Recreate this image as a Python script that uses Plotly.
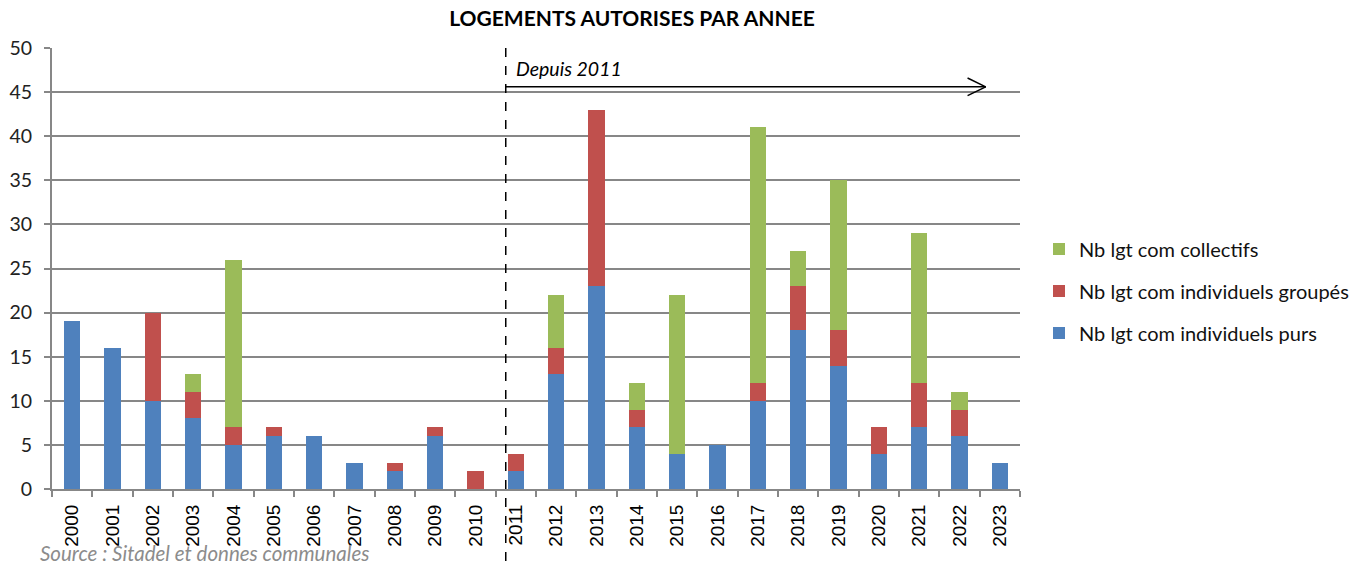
import plotly.graph_objects as go

years = [str(y) for y in range(2000, 2024)]
purs = [19, 16, 10, 8, 5, 6, 6, 3, 2, 6, 0, 2, 13, 23, 7, 4, 5, 10, 18, 14, 4, 7, 6, 3]
groupes = [0, 0, 10, 3, 2, 1, 0, 0, 1, 1, 2, 2, 3, 20, 2, 0, 0, 2, 5, 4, 3, 5, 3, 0]
collectifs = [0, 0, 0, 2, 19, 0, 0, 0, 0, 0, 0, 0, 6, 0, 3, 18, 0, 29, 4, 17, 0, 17, 2, 0]

FONT = "Lato"
TICKFONT = "Liberation Sans"
GRID = "#878787"

fig = go.Figure()
series = [
    ("Nb lgt com individuels purs", purs, "#4F81BD", 3),
    ("Nb lgt com individuels groupés", groupes, "#C0504D", 2),
    ("Nb lgt com collectifs", collectifs, "#9BBB59", 1),
]
for name, vals, col, rank in series:
    fig.add_trace(go.Bar(
        x=years, y=vals, name=name, legendgroup=name, legendrank=rank,
        marker=dict(color=col, line=dict(width=0)),
    ))

# index positions on the category axis
i2011 = years.index("2011")
x_split = i2011 - 0.25
x_arrow_end = years.index("2022") + 0.65
y_arrow = 45.6

shapes = [
    dict(type="line", xref="x", yref="paper", x0=x_split, x1=x_split, y0=1.0, y1=-0.18,
         line=dict(color="black", width=1.5, dash="dash")),
    dict(type="line", xref="x", yref="y", x0=x_split, x1=x_arrow_end, y0=y_arrow, y1=y_arrow,
         line=dict(color="black", width=1.5)),
    dict(type="line", xref="x", yref="y", x0=x_arrow_end - 0.45, x1=x_arrow_end, y0=y_arrow + 1.0, y1=y_arrow,
         line=dict(color="black", width=1.5)),
    dict(type="line", xref="x", yref="y", x0=x_arrow_end - 0.45, x1=x_arrow_end, y0=y_arrow - 1.0, y1=y_arrow,
         line=dict(color="black", width=1.5)),
]

annotations = [
    dict(text="<i>Depuis 2011</i>", xref="x", yref="y", x=x_split + 0.2, y=y_arrow + 0.5,
         xanchor="left", yanchor="bottom", showarrow=False,
         font=dict(family=FONT, size=19.5, color="black")),
    dict(text="<i>Source : Sitadel et donnes communales</i>", xref="paper", yref="paper",
         x=-0.014, y=-0.145, xanchor="left", yanchor="middle", showarrow=False,
         font=dict(family=FONT, size=20.5, color="#8C8C8C")),
]

fig.update_layout(
    width=1363, height=569,
    barmode="stack", bargap=0.6,
    paper_bgcolor="white", plot_bgcolor="white",
    margin=dict(l=52, r=343, t=48, b=80, autoexpand=False),
    title=dict(text="<b>LOGEMENTS AUTORISES PAR ANNEE</b>", x=632 / 1363, xanchor="center",
               y=1 - 19 / 569, yanchor="middle",
               font=dict(family=FONT, size=21, color="black")),
    font=dict(family=FONT, color="black"),
    legend=dict(xref="container", yref="container", x=1039 / 1363, y=1 - 291 / 569,
                xanchor="left", yanchor="middle", traceorder="grouped",
                tracegroupgap=13, font=dict(family=FONT, size=20, color="#111")),
    shapes=shapes,
    annotations=annotations,
)
fig.update_xaxes(
    type="category", tickangle=-90, tickson="boundaries", ticks="outside", ticklen=6,
    tickcolor=GRID, tickwidth=2, showline=True, linecolor=GRID, linewidth=2,
    showgrid=False, ticklabelstandoff=6, automargin=False,
    tickfont=dict(family=TICKFONT, size=19, color="black"),
)
fig.update_yaxes(
    range=[0, 50], dtick=5, ticks="outside", ticklen=6, tickcolor=GRID, tickwidth=2,
    showline=True, linecolor=GRID, linewidth=2, showgrid=True, gridcolor=GRID, gridwidth=2,
    zeroline=False, ticklabelstandoff=8, automargin=False,
    tickfont=dict(family=FONT, size=19.5, color="#222"),
)

fig.write_html("out.html")
